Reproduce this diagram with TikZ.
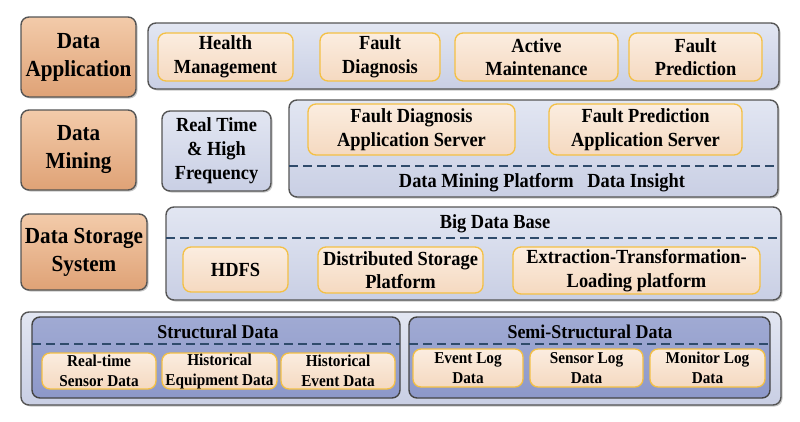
\documentclass[tikz,border=0pt]{standalone}
\usepackage{fontspec}
\setmainfont[FakeStretch=0.92]{Liberation Serif}
\usetikzlibrary{shadows}
\definecolor{catTop}{HTML}{F3CBAA}
\definecolor{catBot}{HTML}{DFA276}
\definecolor{panTop}{HTML}{E2E6F2}
\definecolor{panBot}{HTML}{C9CFE4}
\definecolor{strTop}{HTML}{A0AAD3}
\definecolor{strBot}{HTML}{8D98C9}
\definecolor{itTop}{HTML}{FBEDE0}
\definecolor{itBot}{HTML}{F5D9C0}
\definecolor{itBorder}{HTML}{F4C044}
\definecolor{edge}{HTML}{555555}
\definecolor{dash}{HTML}{2F4B6B}
\tikzset{
  x=1pt, y=-1pt,
  shad/.style={drop shadow={opacity=0.22, shadow xshift=1.5pt, shadow yshift=-1.5pt, fill=black}},
  catbox/.style={draw=edge, line width=1.4pt, rounded corners=8pt, top color=catTop, bottom color=catBot, shad},
  panel/.style={draw=edge, line width=1.4pt, rounded corners=8pt, top color=panTop, bottom color=panBot, shad},
  strpanel/.style={draw=edge!80!black, line width=1.4pt, rounded corners=8pt, top color=strTop, bottom color=strBot},
  itembox/.style={draw=itBorder, line width=1.3pt, rounded corners=8pt, top color=itTop, bottom color=itBot},
  dashline/.style={draw=dash, line width=1.8pt, dash pattern=on 9pt off 5pt},
  cattxt/.style={font=\fontsize{23}{28}\selectfont\bfseries, align=center, inner sep=0pt},
  midtxt/.style={font=\fontsize{20}{23.5}\selectfont\bfseries, align=center, inner sep=0pt},
  subtxt/.style={font=\fontsize{19.5}{23}\selectfont\bfseries, align=center, inner sep=0pt},
  smalltxt/.style={font=\fontsize{16.6}{20}\selectfont\bfseries, align=center, inner sep=0pt},
}
\newcommand{\rbox}[6]{% style, name, x1, y1, x2, y2
  \path[#1] (#3,#4) rectangle (#5,#6);
  \coordinate (#2) at ({(#3+#5)/2},{(#4+#6)/2});
}
\begin{document}
\begin{tikzpicture}
\useasboundingbox[fill=white] (0,0) rectangle (800,421);

% ---------- categories ----------
\rbox{catbox}{cA}{21}{17}{136}{97}
\node[cattxt] (tA) at (cA) {Data\\Application};
\rbox{catbox}{cM}{21}{110}{136}{190}
\node[cattxt] (tM) at (cM) {Data\\Mining};
\rbox{catbox}{cS}{21}{214}{147}{290}
\node[cattxt] (tS) at (cS) {Data Storage\\System};

% ---------- application row ----------
\rbox{panel}{pA}{148}{23}{779}{89}
\rbox{itembox}{a1}{158}{33}{293}{81}
\node[midtxt] (ta1) at (a1) {Health\\Management};
\rbox{itembox}{a2}{320}{33}{440}{81}
\node[midtxt] (ta2) at (a2) {Fault\\Diagnosis};
\rbox{itembox}{a3}{455}{33}{618}{81}
\node[midtxt] (ta3) at (a3) {Active\\Maintenance};
\rbox{itembox}{a4}{629}{33}{762}{81}
\node[midtxt] (ta4) at (a4) {Fault\\Prediction};

% ---------- mining row ----------
\rbox{panel}{rt}{162}{111}{271}{191}
\node[midtxt, font=\fontsize{20}{24}\selectfont\bfseries] (trt) at (rt) {Real Time\\\& High\\Frequency};
\rbox{panel}{pM}{289}{100}{778}{197}
\rbox{itembox}{m1}{308}{104}{515}{155}
\node[midtxt] (tm1) at (m1) {Fault Diagnosis\\Application Server};
\rbox{itembox}{m2}{549}{104}{742}{155}
\node[midtxt] (tm2) at (m2) {Fault Prediction\\Application Server};
\coordinate (mdL) at (289,166);
\coordinate (mdR) at (778,166);
\draw[dashline] (mdL) -- (mdR);
\node[midtxt] (tmp) at (542,183) {Data Mining Platform\hspace{0.45em} Data Insight};

% ---------- storage row ----------
\rbox{panel}{pS}{166}{207}{781}{300}
\node[midtxt] (tbdb) at (495,224) {Big Data Base};
\coordinate (sdL) at (166,238);
\coordinate (sdR) at (781,238);
\draw[dashline] (sdL) -- (sdR);
\rbox{itembox}{s1}{183}{247}{288}{292}
\node[midtxt] (ts1) at (s1) {HDFS};
\rbox{itembox}{s2}{318}{247}{483}{293}
\node[midtxt] (ts2) at (s2) {Distributed Storage\\Platform};
\rbox{itembox}{s3}{513}{247}{760}{294}
\node[midtxt] (ts3) at (s3) {Extraction-Transformation-\\Loading platform};

% ---------- data source row ----------
\rbox{panel}{pD}{21}{312}{781}{405}
\rbox{strpanel}{pst}{32}{317}{400}{398}
\node[subtxt] (tst) at (218,332) {Structural Data};
\coordinate (d1L) at (32,344);
\coordinate (d1R) at (400,344);
\draw[dashline] (d1L) -- (d1R);
\rbox{itembox}{b1}{42}{353}{156}{389}
\node[smalltxt] (tb1) at (b1) {Real-time\\Sensor Data};
\rbox{itembox}{b2}{162}{353}{277}{389}
\node[smalltxt] (tb2) at (b2) {Historical\\Equipment Data};
\rbox{itembox}{b3}{281}{353}{395}{389}
\node[smalltxt] (tb3) at (b3) {Historical\\Event Data};

\rbox{strpanel}{pss}{409}{317}{770}{398}
\node[subtxt] (tss) at (590,332) {Semi-Structural Data};
\coordinate (d2L) at (409,344);
\coordinate (d2R) at (772,344);
\draw[dashline] (d2L) -- (d2R);
\rbox{itembox}{c1}{413}{349}{523}{387}
\node[smalltxt] (tc1) at (c1) {Event Log\\Data};
\rbox{itembox}{c2}{530}{349}{643}{387}
\node[smalltxt] (tc2) at (c2) {Sensor Log\\Data};
\rbox{itembox}{c3}{650}{349}{765}{387}
\node[smalltxt] (tc3) at (c3) {Monitor Log\\Data};
\end{tikzpicture}
\end{document}
